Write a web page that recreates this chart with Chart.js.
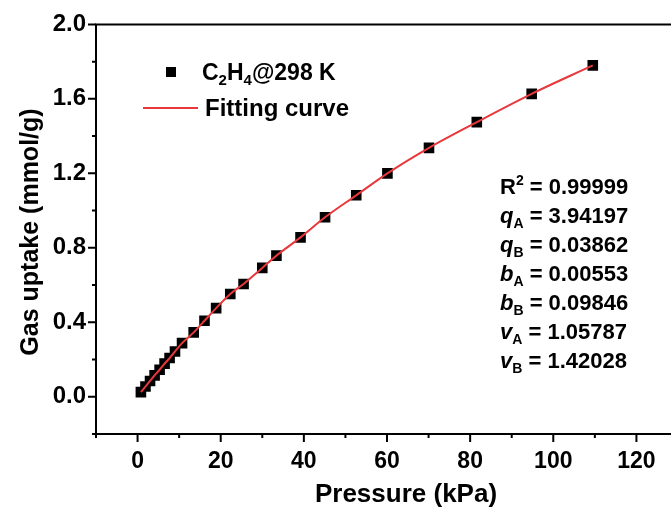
<!DOCTYPE html>
<html>
<head>
<meta charset="utf-8">
<script src="https://cdn.jsdelivr.net/npm/chart.js@4.4.1/dist/chart.umd.min.js"></script>
<style>
  html, body { margin: 0; padding: 0; background: #fff; overflow: hidden; }
  canvas { display: block; }
</style>
</head>
<body>
<canvas id="isotherm" width="700" height="508"></canvas>
<script>
const pressure = [0.8, 1.9, 3.0, 4.1, 5.3, 6.5, 7.7, 9.0, 10.7, 13.5, 16.1, 18.9, 22.3, 25.5,
                  30.0, 33.4, 39.2, 45.1, 52.6, 60.1, 70.1, 81.6, 94.8, 109.5];
const uptake = [0.025, 0.055, 0.085, 0.115, 0.145, 0.178, 0.208, 0.243, 0.288, 0.346, 0.408, 0.476,
                0.552, 0.606, 0.692, 0.758, 0.856, 0.964, 1.082, 1.200, 1.337, 1.475, 1.627, 1.780];

// axis ticks
const xMajorTicks = [0, 20, 40, 60, 80, 100, 120];
const xMinorTicks = [-10, 10, 30, 50, 70, 90, 110, 130];
const yMajorTicks = [0.0, 0.4, 0.8, 1.2, 1.6, 2.0];
const yMinorTicks = [-0.2, 0.2, 0.6, 1.0, 1.4, 1.8];

// fit parameters printed on the plot: [symbol, index, index kind, value]
const fitParams = [
    ['R', '2', 'sup', '0.99999'],
    ['q', 'A', 'sub', '3.94197'],
    ['q', 'B', 'sub', '0.03862'],
    ['b', 'A', 'sub', '0.00553'],
    ['b', 'B', 'sub', '0.09846'],
    ['v', 'A', 'sub', '1.05787'],
    ['v', 'B', 'sub', '1.42028']
];

const FONT = '"Liberation Sans", Arial, sans-serif';
const RED = '#e8383b';

// draw a row of text pieces with different fonts / offsets
function drawRuns(ctx, x, y, runs) {
    runs.forEach(r => {
        ctx.font = r.font;
        ctx.fillText(r.text, x, y + (r.dy || 0));
        x += ctx.measureText(r.text).width;
    });
}

const frame = {
    id: 'frame',
    afterDraw(chart) {
        const ctx = chart.ctx;
        const a = chart.chartArea;
        const xs = chart.scales.x, ys = chart.scales.y;
        ctx.save();
        ctx.strokeStyle = '#000';
        ctx.fillStyle = '#000';
        ctx.lineWidth = 2;

        // axis lines + top border
        ctx.beginPath();
        ctx.moveTo(a.left, a.top); ctx.lineTo(a.left, a.bottom + 1);
        ctx.moveTo(a.left - 1, a.bottom); ctx.lineTo(a.right, a.bottom);
        ctx.moveTo(a.left - 1, a.top); ctx.lineTo(a.right, a.top);
        ctx.stroke();

        // tick marks, outward
        ctx.beginPath();
        xMajorTicks.forEach(v => { const p = xs.getPixelForValue(v); ctx.moveTo(p, a.bottom); ctx.lineTo(p, a.bottom + 8); });
        xMinorTicks.forEach(v => { const p = xs.getPixelForValue(v); ctx.moveTo(p, a.bottom); ctx.lineTo(p, a.bottom + 4); });
        yMajorTicks.forEach(v => { const p = ys.getPixelForValue(v); ctx.moveTo(a.left, p); ctx.lineTo(a.left - 8, p); });
        yMinorTicks.forEach(v => { const p = ys.getPixelForValue(v); ctx.moveTo(a.left, p); ctx.lineTo(a.left - 4, p); });
        ctx.stroke();

        // axis titles
        ctx.textBaseline = 'alphabetic';
        ctx.textAlign = 'center';
        ctx.font = 'bold 26px ' + FONT;
        ctx.fillText('Pressure (kPa)', 406, 502);
        ctx.save();
        ctx.translate(38, 232);
        ctx.rotate(-Math.PI / 2);
        ctx.font = 'bold 25px ' + FONT;
        ctx.fillText('Gas uptake (mmol/g)', 0, 0);
        ctx.restore();

        // legend
        ctx.textAlign = 'left';
        ctx.fillRect(166, 67, 10, 10);
        drawRuns(ctx, 202, 80, [
            { text: 'C', font: 'bold 23px ' + FONT },
            { text: '2', font: 'bold 15px ' + FONT, dy: 5 },
            { text: 'H', font: 'bold 23px ' + FONT },
            { text: '4', font: 'bold 15px ' + FONT, dy: 5 },
            { text: '@298 K', font: 'bold 23px ' + FONT }
        ]);
        ctx.strokeStyle = RED;
        ctx.beginPath();
        ctx.moveTo(143, 108); ctx.lineTo(198, 108);
        ctx.stroke();
        drawRuns(ctx, 205, 116, [{ text: 'Fitting curve', font: 'bold 24px ' + FONT }]);

        // fit parameters
        fitParams.forEach((row, i) => {
            const y = 194 + i * 29;
            const sup = row[2] === 'sup';
            drawRuns(ctx, 500, y, [
                { text: row[0], font: (sup ? '' : 'italic ') + 'bold 22px ' + FONT },
                { text: row[1], font: 'bold 14px ' + FONT, dy: sup ? -9 : 5 },
                { text: ' = ' + row[3], font: 'bold 22px ' + FONT }
            ]);
        });
        ctx.restore();
    }
};

const toPoints = (xs, ys) => xs.map((v, i) => ({ x: v, y: ys[i] }));

new Chart(document.getElementById('isotherm'), {
    type: 'scatter',
    data: {
        datasets: [
            {
                label: 'Fitting curve',
                data: toPoints(pressure, uptake),
                showLine: true,
                borderColor: RED,
                borderWidth: 2,
                pointRadius: 0,
                cubicInterpolationMode: 'monotone',
                order: 0
            },
            {
                label: 'C2H4@298 K',
                data: toPoints(pressure, uptake),
                pointStyle: 'rect',
                pointRadius: 7.5,
                backgroundColor: '#000',
                borderWidth: 0,
                order: 1
            }
        ]
    },
    options: {
        responsive: false,
        animation: false,
        devicePixelRatio: 1,
        layout: { padding: { top: 24, right: 22, left: 0, bottom: 0 } },
        plugins: { legend: { display: false }, tooltip: { enabled: false } },
        scales: {
            x: {
                type: 'linear',
                min: -10,
                max: 130,
                grid: { display: false, drawTicks: false },
                border: { display: false },
                afterBuildTicks: s => { s.ticks = xMajorTicks.concat(xMinorTicks).sort((p, q) => p - q).map(v => ({ value: v })); },
                afterFit: s => { s.height = 74; },
                ticks: {
                    autoSkip: false,
                    maxRotation: 0,
                    padding: 14,
                    color: '#000',
                    font: { family: FONT, size: 23, weight: 'bold' },
                    callback: v => xMajorTicks.includes(v) ? String(v) : ''
                }
            },
            y: {
                type: 'linear',
                min: -0.2,
                max: 2.0,
                grid: { display: false, drawTicks: false },
                border: { display: false },
                afterBuildTicks: s => { s.ticks = yMajorTicks.concat(yMinorTicks).sort((p, q) => p - q).map(v => ({ value: v })); },
                afterFit: s => { s.width = 96; },
                ticks: {
                    autoSkip: false,
                    padding: 10,
                    color: '#000',
                    font: { family: FONT, size: 24, weight: 'bold' },
                    callback: v => yMajorTicks.some(t => Math.abs(t - v) < 1e-6) ? v.toFixed(1) : ''
                }
            }
        }
    },
    plugins: [frame]
});
</script>
</body>
</html>
